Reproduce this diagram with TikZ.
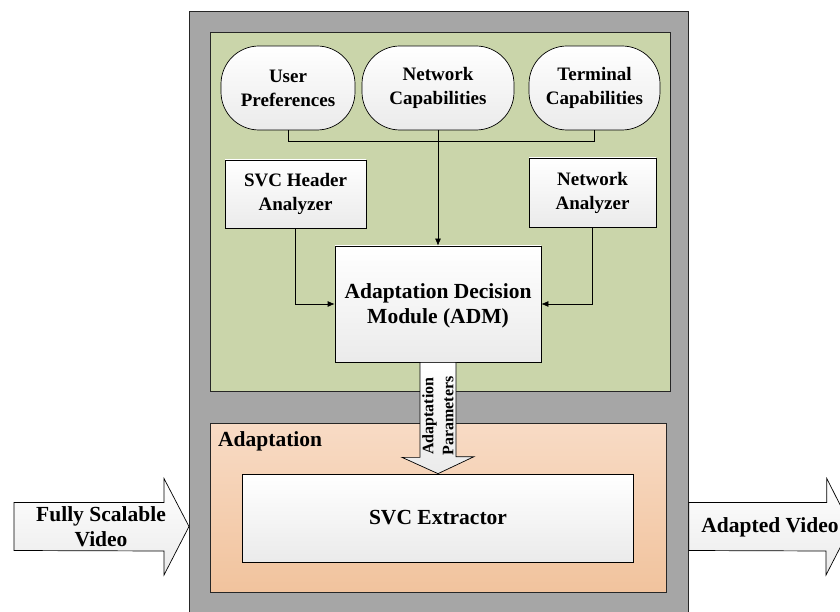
\documentclass[tikz,border=0pt]{standalone}
\usepackage{fontspec}
\setmainfont{Liberation Serif}
\usetikzlibrary{arrows.meta,calc}

\definecolor{sysgray}{HTML}{A6A6A6}
\definecolor{decgreen}{HTML}{CAD5AA}
\definecolor{adtop}{HTML}{F8DBC5}
\definecolor{adbot}{HTML}{F1C39D}

\begin{document}
\begin{tikzpicture}[x=1pt,y=-1pt,>={Latex[length=7pt,width=6pt]},font=\bfseries,
    every node/.style={align=center},
    frame/.style={draw=black!85,line width=0.8pt,inner sep=0pt},
    block/.style={draw,line width=0.7pt,top color=white,bottom color=black!8,inner sep=2pt,
        font=\bfseries\fontsize{19}{24}\selectfont},
    need/.style={block,rounded corners=38pt},
    bigtext/.style={font=\bfseries\fontsize{21.5}{25}\selectfont},
    fatarrow/.style={draw,line width=0.7pt,top color=white,bottom color=black!8}]

\useasboundingbox (0,0) rectangle (840,612);

% frames
\node[frame,fill=sysgray,anchor=north west,minimum width=499pt,minimum height=620pt] (sys) at (189,11) {};
\node[frame,fill=decgreen,anchor=north west,minimum width=460pt,minimum height=359pt] (dec) at (210,32) {};
\node[frame,top color=adtop,bottom color=adbot,anchor=north west,minimum width=456pt,minimum height=169pt] (adapt) at (210,423) {};
\node[bigtext,anchor=north west,inner sep=0pt] (adlabel) at ([shift={(8,8)}]adapt.north west) {Adaptation};

% inputs of the decision module
\node[need,minimum width=134pt,minimum height=84pt] (user) at (288,88) {User\\Preferences};
\node[need,minimum width=152pt,minimum height=84pt] (netcap) at (438,88) {Network\\Capabilities};
\node[need,minimum width=131pt,minimum height=84pt] (term) at (594.5,88) {Terminal\\Capabilities};

\node[block,minimum width=141pt,minimum height=68pt] (svchdr) at (295.5,194) {SVC Header\\Analyzer};
\node[block,minimum width=127pt,minimum height=69pt] (netan) at (592.5,192.5) {Network\\Analyzer};
\node[block,bigtext,minimum width=206pt,minimum height=116pt,text depth=0pt] (adm) at (438,304) {Adaptation Decision\\Module (ADM)};
\node[block,bigtext,minimum width=391pt,minimum height=88pt] (svcx) at (438,518) {SVC Extractor};

\draw[line width=0.7pt] (user.south) -- ++(0,11) -| (term.south);
\draw[->,line width=0.7pt] (netcap.south) -- (adm.north);
\draw[->,line width=0.7pt] (svchdr.south) |- (adm.west);
\draw[->,line width=0.7pt] (netan.south) |- (adm.east);

% parameters to the extractor
\draw[fatarrow] ([xshift=-18pt]adm.south) -- ++(0,95) -- ++(-18,0) -- (svcx.north)
    -- ++(36,-17) -- ++(-18,0) -- ([xshift=18pt]adm.south) -- cycle;
\node[font=\bfseries\fontsize{16}{20}\selectfont,rotate=90] (params) at (438,416) {Adaptation\\Parameters};

% video in and out
\coordinate (srcL) at (14,526.5);
\coordinate (inL) at (sys.west |- srcL);
\coordinate (outR) at (sys.east |- srcL);
\coordinate (dstR) at (851,526.5);

\draw[fatarrow] ([yshift=24pt]srcL) -- ++(150,0) -- ++(0,-24) -- (inL) -- ++(-25,48.5)
    -- ++(0,-24) -- ([yshift=-24pt]srcL) -- cycle;
\node[bigtext] (inlabel) at (101,527) {Fully Scalable\\Video};

\draw[fatarrow] ([yshift=24pt]outR) -- ++(138,0) -- ++(0,-24) -- (dstR) -- ++(-25,48.5)
    -- ++(0,-24) -- ([yshift=-24pt]outR) -- cycle;
\node[bigtext] (outlabel) at (770,527) {Adapted Video};

\end{tikzpicture}
\end{document}
